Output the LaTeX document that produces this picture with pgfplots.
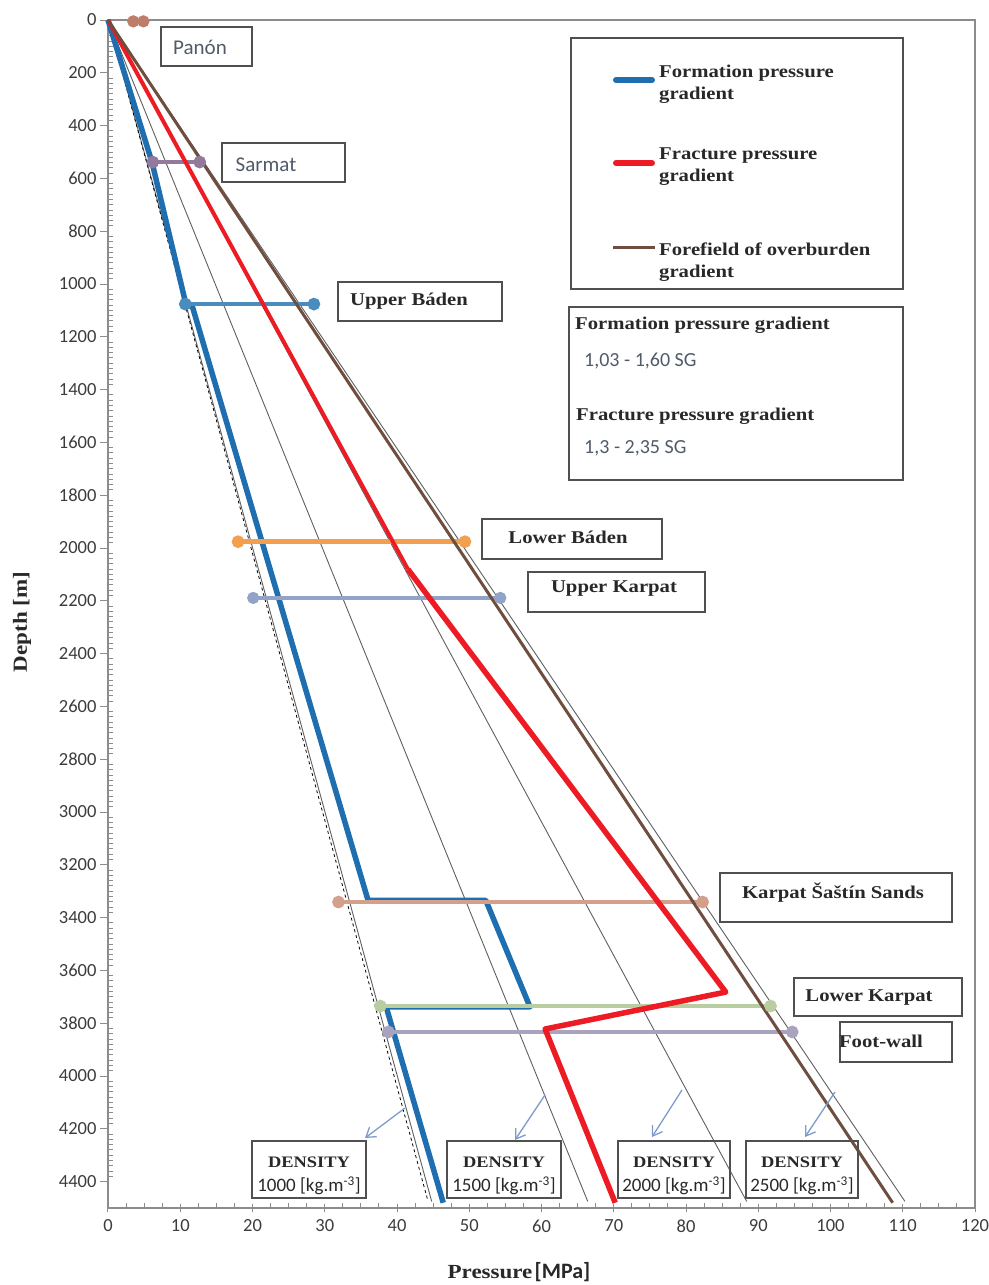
\documentclass[border=0pt]{standalone}
\usepackage{fontspec}
\setmainfont{Carlito}
\newfontfamily\cam[FakeStretch=1.15]{Liberation Serif}
\usepackage{pgfplots}
\pgfplotsset{compat=1.18}
\usetikzlibrary{arrows.meta}
\definecolor{formblue}{RGB}{31,110,176}
\definecolor{fracred}{RGB}{237,28,36}
\definecolor{brownc}{RGB}{110,78,62}
\definecolor{densgray}{RGB}{95,95,95}
\definecolor{axgray}{RGB}{140,140,140}
\definecolor{tickgray}{RGB}{60,60,60}
\definecolor{boxgray}{RGB}{80,80,80}
\definecolor{sanstext}{RGB}{80,90,105}
\definecolor{labtext}{RGB}{40,40,40}
\definecolor{arrowc}{RGB}{125,155,205}
\definecolor{cpanon}{RGB}{190,125,105}
\definecolor{csarmat}{RGB}{145,122,155}
\definecolor{cubaden}{RGB}{75,140,190}
\definecolor{clbaden}{RGB}{242,160,80}
\definecolor{cukarpat}{RGB}{145,163,198}
\definecolor{csastin}{RGB}{212,160,140}
\definecolor{clkarpat}{RGB}{185,205,160}
\definecolor{cfoot}{RGB}{170,163,192}
\begin{document}
\begin{tikzpicture}
\begin{axis}[
  at={(0pt,0pt)}, anchor=south west,
  scale only axis, width=867pt, height=1188pt,
  xmin=0, xmax=120, ymin=0, ymax=4500, y dir=reverse,
  xtick={0,10,...,120}, ytick={0,200,...,4400},
  minor x tick num=3, minor y tick num=9,
  xtick pos=left, ytick pos=left,
  tick align=outside, major tick length=8pt, minor tick length=5pt,
  axis line style={draw=axgray, line width=1.5pt},
  tick style={draw=axgray, line width=1pt},
  minor y tick style={xshift=5pt},
  minor x tick style={yshift=5pt},
  major x tick style={yshift=4pt},
  /pgf/number format/1000 sep={},
  /pgf/number format/assume math mode=true,
  ticklabel style={font=\fontsize{18.5}{18.5}\selectfont, text=tickgray},
  clip=false,
]
% density lines
\addplot[densgray, line width=0.9pt] coordinates {(0,0) (44.8,4475)};
\addplot[black, line width=0.8pt, dashed] coordinates {(0,0) (44.3,4475)};
\addplot[densgray, line width=0.9pt] coordinates {(0,0) (66.4,4475)};
\addplot[densgray, line width=0.9pt] coordinates {(0,0) (88.4,4475)};
\addplot[densgray, line width=0.9pt] coordinates {(0,0) (110.3,4475)};
% formation pressure
\addplot[formblue, line width=5.5pt, line join=round] coordinates {(0,0) (6.1,540) (10.8,1078) (11.6,1078) (36.0,3335) (52.3,3335) (58.4,3738) (38.5,3738) (46.4,4480)};
% stratigraphic markers
\addplot[cpanon, line width=4pt, mark=*, mark size=4pt] coordinates {(3.5,5) (4.9,5)};
\addplot[csarmat, line width=4.5pt, mark=*, mark size=4pt] coordinates {(6.2,538) (12.7,538)};
\addplot[cubaden, line width=4.5pt, mark=*, mark size=4pt] coordinates {(10.7,1076) (28.5,1076)};
\addplot[clbaden, line width=4.5pt, mark=*, mark size=4pt] coordinates {(18.0,1976) (49.4,1976)};
\addplot[cukarpat, line width=4pt, mark=*, mark size=4pt] coordinates {(20.1,2189) (54.3,2189)};
\addplot[csastin, line width=4.5pt, mark=*, mark size=4pt] coordinates {(31.9,3341) (82.3,3341)};
\addplot[clkarpat, line width=4.5pt, mark=*, mark size=4pt] coordinates {(37.7,3735) (91.7,3735)};
\addplot[cfoot, line width=4.5pt, mark=*, mark size=4pt] coordinates {(38.8,3833) (94.7,3833)};
% fracture pressure
\addplot[fracred, line width=4pt, line join=round] coordinates {(0,0) (41.5,2080)};
\addplot[fracred, line width=5.5pt, line join=round] coordinates {(41.5,2080) (85.5,3682) (60.5,3822) (70.2,4480)};
% overburden
\addplot[brownc, line width=3pt] coordinates {(0,0) (108.6,4480)};
\end{axis}
\begin{scope}[x=1pt, y=-1pt, shift={(-108pt,1208pt)}]
\tikzset{lbox/.style={draw=boxgray, line width=1.5pt},
  serlab/.style={font=\cam\bfseries\fontsize{18}{18}\selectfont, text=labtext, inner sep=0pt},
  sanlab/.style={font=\fontsize{21}{21}\selectfont, text=sanstext, inner sep=0pt}}
% label boxes
\draw[lbox] (161,27) rectangle (252,66); \node[sanlab] at (200,47) {Panón};
\draw[lbox] (222,143) rectangle (345,182); \node[sanlab] at (266,165) {Sarmat};
\draw[lbox] (338,282) rectangle (502,321); \node[serlab] at (409,301) {Upper Báden};
\draw[lbox] (482,519) rectangle (662,559); \node[serlab] at (568,537) {Lower Báden};
\draw[lbox] (528,572) rectangle (705,612); \node[serlab] at (614,589) {Upper Karpat};
\draw[lbox] (720,873) rectangle (952,922); \node[serlab] at (833,893) {Karpat Šaštín Sands};
\draw[lbox] (794,978) rectangle (962,1016); \node[serlab] at (869,998) {Lower Karpat};
\draw[lbox] (840,1022) rectangle (952,1062); \node[serlab] at (881,1041) {Foot-wall};
% legend
\draw[lbox] (571,38) rectangle (903,289);
\draw[formblue, line width=6pt, line cap=round] (616,80) -- (652,80);
\draw[fracred, line width=6pt, line cap=round] (616,163) -- (652,163);
\draw[brownc, line width=3pt] (613,248) -- (655,248);
\node[serlab, anchor=west, align=left, font=\cam\bfseries\fontsize{18}{22}\selectfont] at (659,84) {Formation pressure\\gradient};
\node[serlab, anchor=west, align=left, font=\cam\bfseries\fontsize{18}{22}\selectfont] at (659,167) {Fracture pressure\\gradient};
\node[serlab, anchor=west, align=left, font=\cam\bfseries\fontsize{18}{22}\selectfont] at (659,262) {Forefield of overburden\\gradient};
% info box
\draw[lbox] (569,307) rectangle (903,480);
\node[serlab, anchor=west] at (575,325) {Formation pressure gradient};
\node[sanlab, anchor=west, font=\fontsize{20}{20}\selectfont] at (584,361) {1,03 - 1,60 SG};
\node[serlab, anchor=west] at (576,416) {Fracture pressure gradient};
\node[sanlab, anchor=west, font=\fontsize{20}{20}\selectfont] at (584,448) {1,3 - 2,35 SG};
% density boxes
\foreach \xa/\xb/\dv/\ax/\ay/\bx/\by in {252/366/1000/405/1108/365/1138, 447/561/1500/545/1095/515/1140, 618/730/2000/682/1090/652/1137, 746/858/2500/835/1092/805/1137}{
  \draw[lbox] (\xa,1141) rectangle (\xb,1198);
  \node[serlab, font=\cam\bfseries\fontsize{16}{16}\selectfont] at ({(\xa+\xb)/2},1162) {DENSITY};
  \node[sanlab, font=\fontsize{19}{19}\selectfont, text=labtext] at ({(\xa+\xb)/2},1186) {\dv{} [kg.m\textsuperscript{-3}]};
  \draw[arrowc, line width=1.3pt, -{Straight Barb[length=9pt,width=12pt]}] (\ax,\ay) -- (\bx,\by);
}
% axis titles
\node[rotate=90, font=\cam\bfseries\fontsize{20}{20}\selectfont, text=labtext] at (22,622) {Depth [m]};
\node[text=labtext] at (519,1272) {{\cam\bfseries\fontsize{20}{20}\selectfont Pressure} {\bfseries\fontsize{22}{22}\selectfont [MPa]}};
\end{scope}
\pgfresetboundingbox
\path[use as bounding box] (-108pt,-77pt) rectangle (880pt,1208pt);
\end{tikzpicture}
\end{document}
